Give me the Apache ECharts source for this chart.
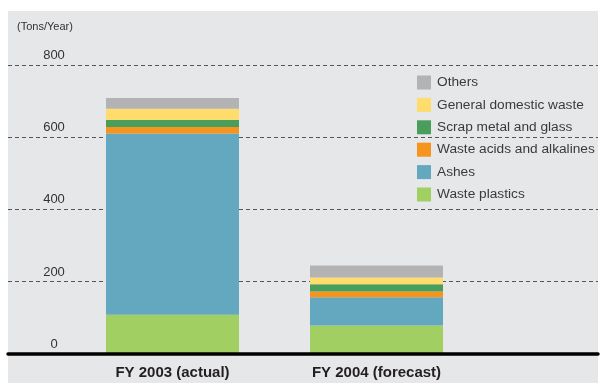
<!DOCTYPE html>
<html>
<head>
<meta charset="utf-8">
<script src="https://cdn.jsdelivr.net/npm/echarts@6/dist/echarts.min.js"></script>
<style>
  html, body { margin: 0; padding: 0; background: #ffffff; }
  #chart { width: 600px; height: 383px; }
</style>
</head>
<body>
<div id="chart"></div>
<script>
// Waste generated, tons per year
const categories = ['FY 2003 (actual)', 'FY 2004 (forecast)'];
const wastePlastics = [108, 78];
const ashes = [502, 78];
const wasteAcids = [18, 16];
const scrapMetal = [19, 20];
const domesticWaste = [31, 19];
const others = [30, 33];
const yTicks = [0, 200, 400, 600, 800];

const seriesDefs = [
  { name: 'Waste plastics', data: wastePlastics, color: '#a2cf62' },
  { name: 'Ashes', data: ashes, color: '#64a8c0' },
  { name: 'Waste acids and alkalines', data: wasteAcids, color: '#f7941d' },
  { name: 'Scrap metal and glass', data: scrapMetal, color: '#4a9e5c' },
  { name: 'General domestic waste', data: domesticWaste, color: '#ffdc6b' },
  { name: 'Others', data: others, color: '#b3b3b3' }
];

const sans = '"Liberation Sans", Arial, sans-serif';
const yMax = yTicks[yTicks.length - 1];

const chart = echarts.init(document.getElementById('chart'), null, { renderer: 'canvas' });

chart.setOption({
  animation: false,
  backgroundColor: '#ffffff',
  graphic: [
    {
      type: 'rect', z: -10, silent: true,
      shape: { x: 8, y: 11, width: 590, height: 372 },
      style: { fill: '#e6e7e9' }
    },
    {
      type: 'text', left: 17, top: 21, z: 10,
      style: { text: '(Tons/Year)', fill: '#333333', font: '11px ' + sans }
    }
  ],
  legend: {
    orient: 'vertical',
    left: 417,
    top: 75.5,
    padding: 0,
    itemWidth: 14,
    itemHeight: 14,
    itemGap: 8.4,
    icon: 'rect',
    data: seriesDefs.map(s => s.name).reverse(),
    textStyle: { fontFamily: sans, fontSize: 13.7, color: '#3a3a3a', lineHeight: 14, padding: [0, 0, 0, 1] }
  },
  grid: [
    { left: 8, right: 2, top: 64.8, bottom: 29.3 },
    { left: 70.5, width: 408, top: 64.8, bottom: 29.3 }
  ],
  xAxis: [
    {
      type: 'category', gridIndex: 0, data: [''],
      axisLine: { show: true, lineStyle: { color: '#000000', width: 3.5 } },
      axisTick: { show: false }, axisLabel: { show: false }, splitLine: { show: false },
      z: 5
    },
    {
      type: 'category', gridIndex: 1, data: categories,
      axisLine: { show: false }, axisTick: { show: false },
      axisLabel: { margin: 12, fontFamily: sans, fontWeight: 'bold', fontSize: 15, color: '#231f20' }
    }
  ],
  yAxis: [
    {
      type: 'value', gridIndex: 0, min: 0, max: yMax, interval: 200,
      axisLine: { show: false }, axisTick: { show: false },
      axisLabel: {
        inside: true, margin: 46, align: 'center', verticalAlign: 'bottom',
        padding: [0, 0, 3, 0],
        fontFamily: sans, fontSize: 13, color: '#333333'
      },
      splitLine: { show: true, lineStyle: { color: '#555555', type: [4, 3], width: 1 } }
    },
    {
      type: 'value', gridIndex: 1, min: 0, max: yMax, interval: 200,
      show: false, splitLine: { show: false }
    }
  ],
  series: seriesDefs.map(s => ({
    name: s.name,
    type: 'bar',
    stack: 'total',
    xAxisIndex: 1,
    yAxisIndex: 1,
    barWidth: 133,
    data: s.data,
    itemStyle: { color: s.color },
    z: 3
  }))
});
</script>
</body>
</html>
